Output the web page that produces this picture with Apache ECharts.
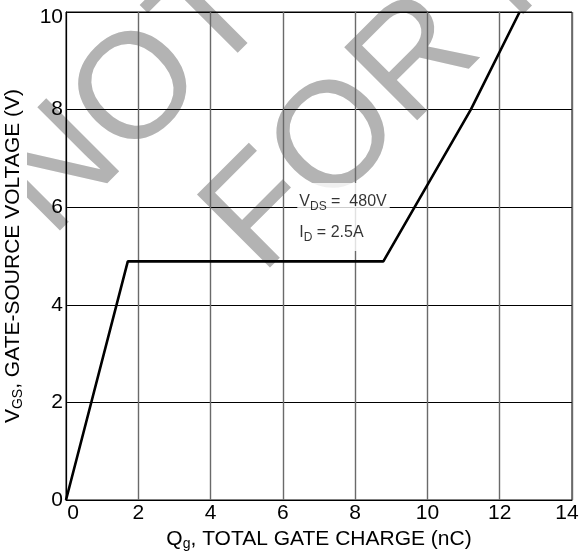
<!DOCTYPE html>
<html>
<head>
<meta charset="utf-8">
<script src="https://cdn.jsdelivr.net/npm/echarts@6/dist/echarts.min.js"></script>
<style>
  html, body { margin: 0; padding: 0; background: #fff; }
  #chart { width: 580px; height: 553px; }
</style>
</head>
<body>
<div id="chart"></div>
<script>
// ---- data ----
const qg  = [0, 1.71, 8.78, 11.2, 12.55];   // Qg, total gate charge (nC)
const vgs = [0, 4.89, 4.89, 8.0, 10.0];     // VGS (V)
const xMin = 0, xMax = 14, xStep = 2;
const yMin = 0, yMax = 10, yStep = 2;
const annotationAt = [6.40, 5.80];
const watermarkLines = ['NOT RECOMMENDED', 'FOR NEW DESIGN'];

const FONT = '"Liberation Sans", Arial, Helvetica, sans-serif';
const chart = echarts.init(document.getElementById('chart'), null, { renderer: 'canvas' });

const wmStyle = { fill: '#b3b3b3', fontSize: 150, fontFamily: FONT, textAlign: 'left', verticalAlign: 'middle' };

const option = {
  backgroundColor: '#fff',
  animation: false,
  graphic: [
    { type: 'text', z: -10, x: 22, y: 210, rotation: Math.PI / 4, silent: true,
      style: Object.assign({ text: watermarkLines[0] }, wmStyle) },
    { type: 'text', z: -10, x: 232, y: 247, rotation: Math.PI / 4, silent: true,
      style: Object.assign({ text: watermarkLines[1] }, wmStyle) }
  ],
  grid: { left: 66, top: 12, width: 506, height: 488, show: true, borderColor: '#000', borderWidth: 1,
          backgroundColor: 'transparent', containLabel: false, outerBoundsMode: 'none' },
  xAxis: {
    type: 'value', min: xMin, max: xMax, interval: xStep,
    name: '{m|Q}{s|g}{m|, TOTAL GATE CHARGE (nC)}',
    nameLocation: 'middle', nameGap: 27,
    nameTextStyle: { color: '#000', fontFamily: FONT, fontSize: 21,
      rich: { m: { fontSize: 21, fontFamily: FONT, color: '#000' },
              s: { fontSize: 14, fontFamily: FONT, color: '#000', padding: [10, 0, 0, 0] } } },
    axisLine: { show: true, lineStyle: { color: '#000', width: 1 } },
    axisTick: { show: false },
    axisLabel: { color: '#000', fontFamily: FONT, fontSize: 21, margin: 3,
      formatter: v => v === xMin ? '{z|' + v + '}' : (v === xMax ? '{e|' + v + '}' : String(v)),
      rich: { z: { fontSize: 21, fontFamily: FONT, color: '#000', padding: [0, 0, 0, 14] },
              e: { fontSize: 21, fontFamily: FONT, color: '#000', padding: [0, 10, 0, 0] } } },
    splitLine: { show: true, lineStyle: { color: '#6a6a6a', width: 1.4 } }
  },
  yAxis: {
    type: 'value', min: yMin, max: yMax, interval: yStep,
    name: '{m|V}{s|GS}{m|, GATE-SOURCE VOLTAGE (V)}',
    nameLocation: 'middle', nameGap: 39,
    nameTextStyle: { color: '#000', fontFamily: FONT, fontSize: 21, backgroundColor: '#fff', padding: [2, 4, 2, 4],
      rich: { m: { fontSize: 21, fontFamily: FONT, color: '#000' },
              s: { fontSize: 14, fontFamily: FONT, color: '#000', padding: [10, 0, 0, 0] } } },
    axisLine: { show: true, lineStyle: { color: '#000', width: 1 } },
    axisTick: { show: false },
    axisLabel: { color: '#000', fontFamily: FONT, fontSize: 21, margin: 3,
      formatter: v => v === yMax ? '{t|' + v + '}' : String(v),
      rich: { t: { fontSize: 21, fontFamily: FONT, color: '#000', padding: [10, 0, 0, 0] } } },
    splitLine: { show: true, lineStyle: { color: '#000', width: 1 } }
  },
  series: [
    {
      type: 'line', z: 3,
      data: qg.map((q, i) => [q, vgs[i]]),
      symbol: 'none',
      lineStyle: { color: '#000', width: 2.6 },
      itemStyle: { color: '#000' }
    },
    {
      type: 'scatter', z: 2,
      data: [annotationAt],
      symbolSize: 0,
      silent: true,
      label: {
        show: true, position: 'right', distance: 0,
        backgroundColor: '#fff', padding: [3, 3, 3, 2],
        formatter: '{m|V}{s|DS}{m| =  480V}\n{m|I}{s|D}{m| = 2.5A}',
        rich: {
          m: { fontSize: 16, fontFamily: FONT, color: '#000', lineHeight: 31 },
          s: { fontSize: 12, fontFamily: FONT, color: '#000', lineHeight: 31, padding: [10, 0, 0, 0] }
        }
      }
    }
  ]
};
chart.setOption(option);
</script>
</body>
</html>
